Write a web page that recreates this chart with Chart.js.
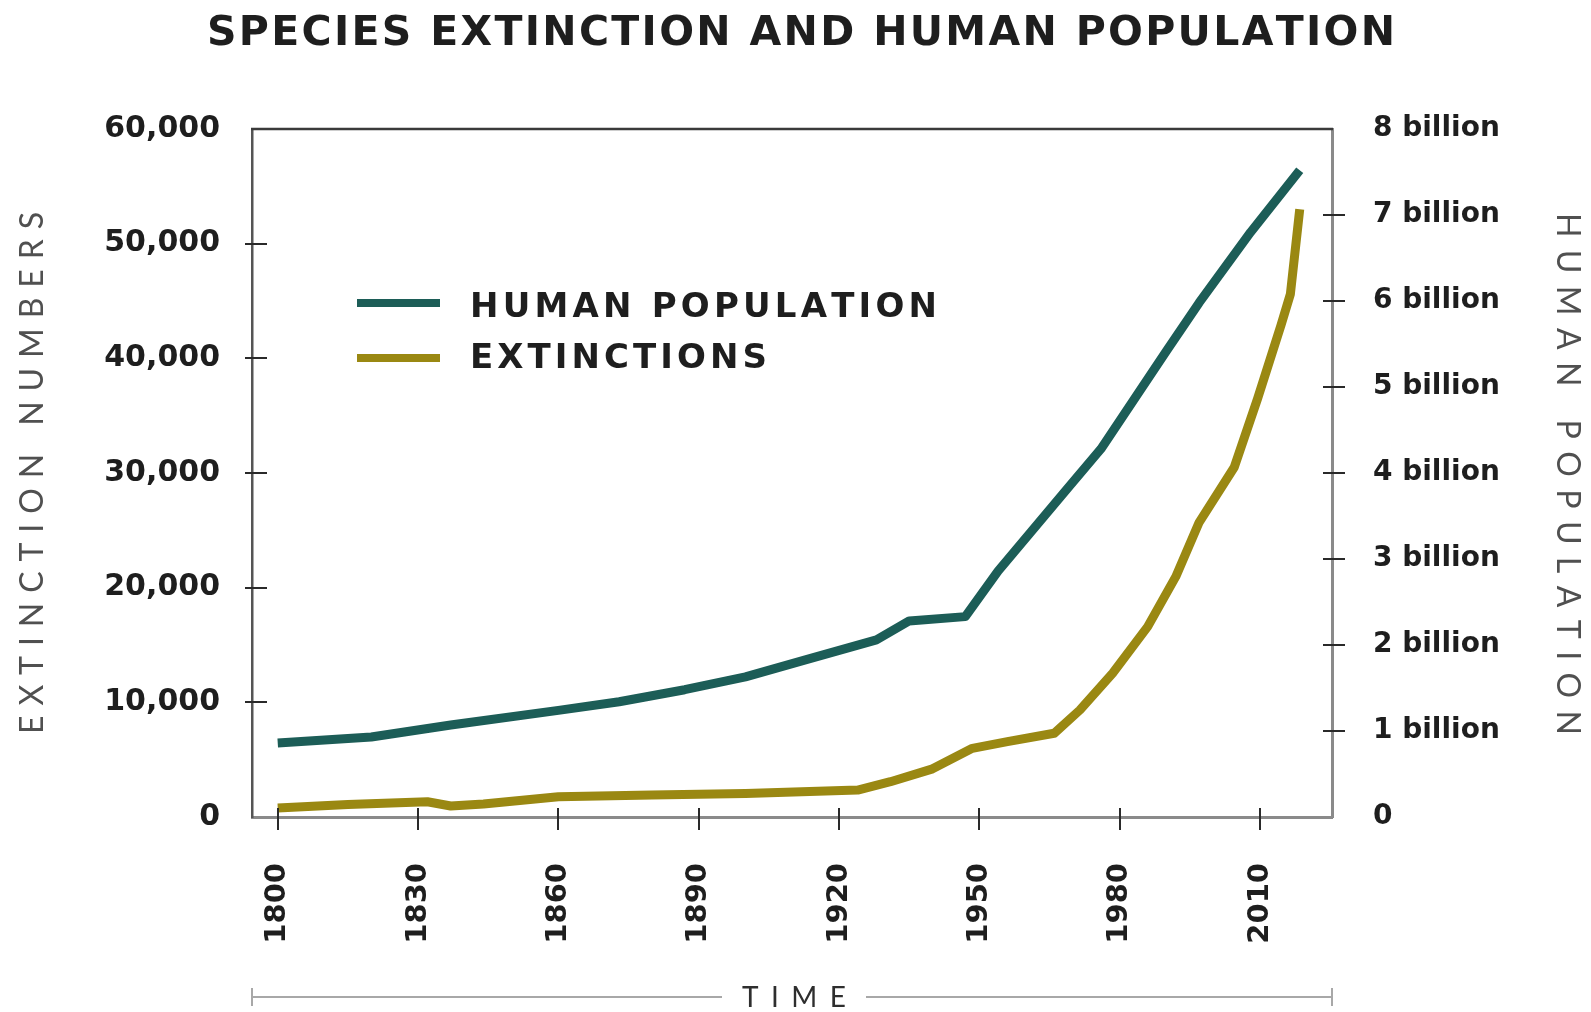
<!DOCTYPE html>
<html>
<head>
<meta charset="utf-8">
<title>Species Extinction and Human Population</title>
<script src="https://cdn.jsdelivr.net/npm/chart.js@4.4.1/dist/chart.umd.min.js"></script>
<style>
  html, body { margin: 0; padding: 0; background: #ffffff; }
  canvas { display: block; }
</style>
</head>
<body>
<canvas id="chart" width="1591" height="1012"></canvas>
<script>
// ---- data ----
const chartTitle = 'SPECIES EXTINCTION AND HUMAN POPULATION';
const seriesLabels = ['HUMAN POPULATION', 'EXTINCTIONS'];
const axisTitleLeft = 'EXTINCTION NUMBERS';
const axisTitleRight = 'HUMAN POPULATION';
const axisTitleBottom = 'TIME';

const xTickYears = [1800, 1830, 1860, 1890, 1920, 1950, 1980, 2010];
const extTicks = [0, 10000, 20000, 30000, 40000, 50000, 60000];
const popTicks = [0, 1, 2, 3, 4, 5, 6, 7, 8];

// world population, billions
const popYears    = [1800, 1820, 1837, 1860, 1873, 1887, 1900, 1913, 1928, 1935, 1947, 1954, 1969, 1976, 1983, 1990, 1997, 2008, 2018.5];
const popBillions = [0.86, 0.93, 1.07, 1.24, 1.34, 1.48, 1.63, 1.83, 2.06, 2.28, 2.33, 2.86, 3.83, 4.28, 4.85, 5.42, 5.98, 6.80, 7.52];

// species extinctions
const extYears  = [1800, 1815, 1832, 1837, 1844, 1860, 1880, 1900, 1924, 1931, 1940, 1948.5, 1956, 1966, 1971.5, 1978.5, 1986, 1992, 1997, 2004.5, 2009.5, 2014.5, 2016.5, 2018.5];
const extValues = [790, 1100, 1330, 960, 1130, 1770, 1920, 2050, 2350, 3080, 4200, 5990, 6570, 7300, 9330, 12530, 16600, 20960, 25700, 30500, 36500, 42900, 45600, 53000];

// ---- styling ----
const TEAL = '#1c5d57';
const OLIVE = '#9a8812';
const INK = '#1e1e1e';
const SOFT = '#505050';
const NUM_FONT = '"DejaVu Sans", "Noto Sans", sans-serif';
const LIGHT_FONT = 'Lato, "Open Sans", sans-serif';

// draw text one glyph at a time with tracking so it spans `width`
function trackedText(ctx, text, x, baseline, width, align) {
  const chars = Array.from(text);
  const adv = chars.map(c => ctx.measureText(c).width);
  const natural = adv.reduce((a, b) => a + b, 0);
  const gap = chars.length > 1 ? (width - natural) / (chars.length - 1) : 0;
  let cx = align === 'left' ? x : x - width / 2;
  ctx.textAlign = 'left';
  chars.forEach((c, i) => {
    ctx.fillText(c, cx, baseline);
    cx += adv[i] + gap;
  });
}

const decorations = {
  id: 'decorations',
  beforeDraw(chart) {
    const { ctx, width, height } = chart;
    ctx.save();
    ctx.fillStyle = '#ffffff';
    ctx.fillRect(0, 0, width, height);
    ctx.restore();
  },
  afterDraw(chart) {
    const { ctx, chartArea: a, scales } = chart;
    ctx.save();

    // top edge of the plot frame
    ctx.strokeStyle = '#3a3a3a';
    ctx.lineWidth = 2.5;
    ctx.beginPath();
    ctx.moveTo(a.left - 1, a.top);
    ctx.lineTo(a.right + 1, a.top);
    ctx.stroke();

    // tick marks crossing the axes
    ctx.strokeStyle = '#2a2a2a';
    ctx.lineWidth = 2;
    ctx.beginPath();
    scales.y.ticks.forEach(t => {
      if (t.value <= scales.y.min || t.value >= scales.y.max) return;
      const py = Math.round(scales.y.getPixelForValue(t.value));
      ctx.moveTo(a.left - 7, py);
      ctx.lineTo(a.left + 15, py);
    });
    scales.y1.ticks.forEach(t => {
      if (t.value <= scales.y1.min || t.value >= scales.y1.max) return;
      const py = Math.round(scales.y1.getPixelForValue(t.value));
      ctx.moveTo(a.right - 9, py);
      ctx.lineTo(a.right + 13, py);
    });
    scales.x.ticks.forEach(t => {
      const px = Math.round(scales.x.getPixelForValue(t.value));
      ctx.moveTo(px, a.bottom - 9);
      ctx.lineTo(px, a.bottom + 13);
    });
    ctx.stroke();

    // chart title
    ctx.fillStyle = INK;
    ctx.textBaseline = 'alphabetic';
    ctx.font = 'bold 41px ' + NUM_FONT;
    trackedText(ctx, chartTitle, 801, 45, 1188, 'center');

    // axis titles
    ctx.fillStyle = SOFT;
    ctx.font = '400 32px ' + LIGHT_FONT;
    ctx.save();
    ctx.translate(43, (a.top + a.bottom) / 2);
    ctx.rotate(-Math.PI / 2);
    trackedText(ctx, axisTitleLeft, 0, 0, 522, 'center');
    ctx.restore();

    ctx.save();
    ctx.translate(1557, (a.top + a.bottom) / 2 + 1);
    ctx.rotate(Math.PI / 2);
    trackedText(ctx, axisTitleRight, 0, 0, 522, 'center');
    ctx.restore();

    // time rule under the x axis
    const ruleY = 997;
    ctx.strokeStyle = '#a8a8a8';
    ctx.lineWidth = 2;
    ctx.beginPath();
    ctx.moveTo(a.left, ruleY); ctx.lineTo(722, ruleY);
    ctx.moveTo(866, ruleY); ctx.lineTo(a.right, ruleY);
    ctx.moveTo(a.left, ruleY - 9); ctx.lineTo(a.left, ruleY + 9);
    ctx.moveTo(a.right, ruleY - 9); ctx.lineTo(a.right, ruleY + 9);
    ctx.stroke();
    ctx.fillStyle = '#2e2e2e';
    ctx.font = '400 28px ' + LIGHT_FONT;
    trackedText(ctx, axisTitleBottom, 794, 1007, 104, 'center');

    // legend
    const rows = [
      { lineY: 303, baseline: 317, width: 467 },
      { lineY: 358, baseline: 368, width: 297 }
    ];
    ctx.font = 'bold 34px ' + NUM_FONT;
    chart.data.datasets.forEach((ds, i) => {
      const r = rows[i];
      ctx.strokeStyle = ds.borderColor;
      ctx.lineWidth = 8;
      ctx.lineCap = 'butt';
      ctx.beginPath();
      ctx.moveTo(357, r.lineY);
      ctx.lineTo(440, r.lineY);
      ctx.stroke();
      ctx.fillStyle = INK;
      trackedText(ctx, ds.label, 470, r.baseline, r.width, 'left');
    });

    ctx.restore();
  }
};

const ctx = document.getElementById('chart').getContext('2d');
new Chart(ctx, {
  type: 'line',
  data: {
    datasets: [
      {
        label: seriesLabels[0],
        data: popYears.map((yr, i) => ({ x: yr, y: popBillions[i] })),
        yAxisID: 'y1',
        borderColor: TEAL,
        borderWidth: 9,
        pointRadius: 0,
        fill: false,
        tension: 0,
        borderCapStyle: 'butt',
        borderJoinStyle: 'round'
      },
      {
        label: seriesLabels[1],
        data: extYears.map((yr, i) => ({ x: yr, y: extValues[i] })),
        yAxisID: 'y',
        borderColor: OLIVE,
        borderWidth: 9,
        pointRadius: 0,
        fill: false,
        tension: 0,
        borderCapStyle: 'butt',
        borderJoinStyle: 'round'
      }
    ]
  },
  options: {
    responsive: false,
    animation: false,
    devicePixelRatio: 1,
    layout: { padding: { top: 129, left: 0, right: 0, bottom: 0 } },
    plugins: {
      legend: { display: false },
      tooltip: { enabled: false },
      title: { display: false }
    },
    scales: {
      x: {
        type: 'linear',
        min: 1794.5,
        max: 2025.4,
        afterBuildTicks: s => { s.ticks = xTickYears.map(v => ({ value: v })); },
        afterFit: s => { s.height = 195; },
        grid: { display: false },
        border: { display: true, color: '#8a8a8a', width: 3 },
        ticks: {
          autoSkip: false,
          minRotation: 90,
          maxRotation: 90,
          padding: 38,
          color: INK,
          font: { family: NUM_FONT, size: 29, weight: 'bold' },
          callback: v => String(v)
        }
      },
      y: {
        position: 'left',
        min: 0,
        max: 60000,
        afterBuildTicks: s => { s.ticks = extTicks.map(v => ({ value: v })); },
        afterFit: s => { s.width = 252; },
        grid: { display: false },
        border: { display: true, color: '#555555', width: 2.5 },
        ticks: {
          padding: 24,
          color: INK,
          font: { family: NUM_FONT, size: 30, weight: 'bold' },
          callback: v => v.toLocaleString('en-US')
        }
      },
      y1: {
        position: 'right',
        min: 0,
        max: 8,
        afterBuildTicks: s => { s.ticks = popTicks.map(v => ({ value: v })); },
        afterFit: s => { s.width = 259; },
        grid: { display: false },
        border: { display: true, color: '#8a8a8a', width: 3 },
        ticks: {
          padding: 33,
          color: INK,
          font: { family: NUM_FONT, size: 28, weight: 'bold' },
          callback: v => (v === 0 ? '0' : v + ' billion')
        }
      }
    }
  },
  plugins: [decorations]
});
</script>
</body>
</html>
